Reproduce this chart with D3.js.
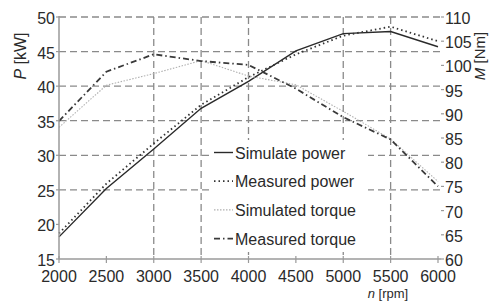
<!DOCTYPE html>
<html>
<head>
<meta charset="utf-8">
<script src="https://cdn.jsdelivr.net/npm/d3@7"></script>
<style>
  body { margin: 0; background: #fff; }
  svg text { font-family: "Liberation Sans", Arial, sans-serif; fill: #2a2a2a; }
</style>
</head>
<body>
<svg id="chart" width="489" height="301"></svg>
<script>
// engine speed [rpm]
const speeds = [2000, 2500, 3000, 3500, 4000, 4500, 5000, 5500, 6000];
// power [kW]
const simPower = [18.2, 25.2, 30.9, 36.8, 40.7, 45.1, 47.6, 47.9, 45.7];
const measPower = [18.7, 25.9, 31.7, 37.3, 41.3, 44.6, 47.3, 48.6, 46.5];
// torque [Nm]
const simTorque = [87.2, 95.9, 98.3, 101.0, 97.8, 96.0, 90.5, 84.8, 76.0];
const measTorque = [88.5, 98.7, 102.3, 100.9, 100.1, 95.2, 89.3, 84.7, 75.0];

const xTicks = [2000, 2500, 3000, 3500, 4000, 4500, 5000, 5500, 6000];
const powerTicks = [15, 20, 25, 30, 35, 40, 45, 50];
const torqueTicks = [60, 65, 70, 75, 80, 85, 90, 95, 100, 105, 110];
// grid lines actually drawn in the figure
const vGrid = [3000, 3500, 4000, 5000, 5500];
const hGrid = [25, 30, 35, 40, 45, 50];

const legendItems = ["Simulate power", "Measured power", "Simulated torque", "Measured torque"];

const svg = d3.select("#chart");
const plotLeft = 59, plotRight = 438, plotTop = 17, plotBottom = 259;

const x = d3.scaleLinear().domain([2000, 6000]).range([plotLeft, plotRight]);
const yP = d3.scaleLinear().domain([15, 50]).range([plotBottom, plotTop]);
const yM = d3.scaleLinear().domain([60, 110]).range([plotBottom, plotTop]);

const gridColor = "#8a8a8a";

// grid
svg.append("g").selectAll("line").data(hGrid).enter().append("line")
    .attr("x1", plotLeft).attr("x2", plotRight + 3)
    .attr("y1", d => yP(d)).attr("y2", d => yP(d))
    .attr("stroke", gridColor).attr("stroke-width", 1.3)
    .attr("stroke-dasharray", "7,4");

svg.append("g").selectAll("line").data(vGrid).enter().append("line")
    .attr("x1", d => x(d)).attr("x2", d => x(d))
    .attr("y1", plotTop).attr("y2", plotBottom)
    .attr("stroke", gridColor).attr("stroke-width", 1.3)
    .attr("stroke-dasharray", "7,4");

// series
const styles = [
    {data: simPower, y: yP, color: "#2a2a2a", width: 1.4, dash: null},
    {data: measPower, y: yP, color: "#333", width: 1.8, dash: "1.5,3"},
    {data: simTorque, y: yM, color: "#b0b0b0", width: 1.1, dash: "1.5,1.5"},
    {data: measTorque, y: yM, color: "#3a3a3a", width: 1.8, dash: "6,3,1.5,3"}
];

// legend box hides the grid under it
svg.append("rect")
    .attr("x", 209).attr("y", 140).attr("width", 159).attr("height", 112)
    .attr("fill", "#fff");

styles.forEach(s => {
    const line = d3.line()
        .x((d, i) => x(speeds[i]))
        .y(d => s.y(d));
    svg.append("path")
        .datum(s.data)
        .attr("d", line)
        .attr("fill", "none")
        .attr("stroke", s.color)
        .attr("stroke-width", s.width)
        .attr("stroke-dasharray", s.dash);
});

// axes
const axisColor = "#9a9a9a";
svg.append("line").attr("x1", plotLeft).attr("x2", plotLeft).attr("y1", plotTop - 1).attr("y2", plotBottom)
    .attr("stroke", axisColor).attr("stroke-width", 1.5);
svg.append("line").attr("x1", plotLeft).attr("x2", plotRight + 3).attr("y1", plotBottom).attr("y2", plotBottom)
    .attr("stroke", axisColor).attr("stroke-width", 1.5);

// left ticks
svg.append("g").selectAll("line").data(powerTicks).enter().append("line")
    .attr("x1", plotLeft - 3).attr("x2", plotLeft)
    .attr("y1", d => yP(d)).attr("y2", d => yP(d))
    .attr("stroke", axisColor).attr("stroke-width", 1.2);
svg.append("g").selectAll("text").data(powerTicks).enter().append("text")
    .attr("x", plotLeft - 4).attr("y", d => yP(d) + 7)
    .attr("text-anchor", "end").attr("font-size", 16)
    .text(d => d);

// bottom ticks
svg.append("g").selectAll("line").data(xTicks).enter().append("line")
    .attr("x1", d => x(d)).attr("x2", d => x(d))
    .attr("y1", plotBottom - 3).attr("y2", plotBottom + 4)
    .attr("stroke", axisColor).attr("stroke-width", 1.2);
svg.append("g").selectAll("text").data(xTicks).enter().append("text")
    .attr("x", d => x(d)).attr("y", 282)
    .attr("text-anchor", "middle").attr("font-size", 16)
    .text(d => d);

// right ticks
svg.append("g").selectAll("line").data(torqueTicks).enter().append("line")
    .attr("x1", plotRight + 3).attr("x2", plotRight + 6)
    .attr("y1", d => yM(d)).attr("y2", d => yM(d))
    .attr("stroke", axisColor).attr("stroke-width", 1.2);
svg.append("g").selectAll("text").data(torqueTicks).enter().append("text")
    .attr("x", plotRight + 7).attr("y", d => yM(d) + 7)
    .attr("text-anchor", "start").attr("font-size", 16)
    .text(d => d);

// axis titles
const pLabel = svg.append("text")
    .attr("transform", "translate(26,56) rotate(-90)")
    .attr("text-anchor", "middle").attr("font-size", 16);
pLabel.append("tspan").attr("font-style", "italic").text("P");
pLabel.append("tspan").text(" [kW]");

const mLabel = svg.append("text")
    .attr("transform", "translate(485,56) rotate(-90)")
    .attr("text-anchor", "middle").attr("font-size", 15);
mLabel.append("tspan").attr("font-style", "italic").text("M");
mLabel.append("tspan").text(" [Nm]");

const nLabel = svg.append("text")
    .attr("x", 388).attr("y", 297.5)
    .attr("text-anchor", "middle").attr("font-size", 13);
nLabel.append("tspan").attr("font-style", "italic").text("n");
nLabel.append("tspan").text(" [rpm]");

// legend
const legend = svg.append("g").selectAll("g").data(legendItems).enter().append("g")
    .attr("transform", (d, i) => `translate(0, ${152.5 + i * 28.7})`);
legend.append("line")
    .attr("x1", 214).attr("x2", 233).attr("y1", 0).attr("y2", 0)
    .attr("stroke", (d, i) => styles[i].color)
    .attr("stroke-width", (d, i) => styles[i].width)
    .attr("stroke-dasharray", (d, i) => styles[i].dash);
legend.append("text")
    .attr("x", 235).attr("y", 6)
    .attr("font-size", 16)
    .text(d => d);
</script>
</body>
</html>
